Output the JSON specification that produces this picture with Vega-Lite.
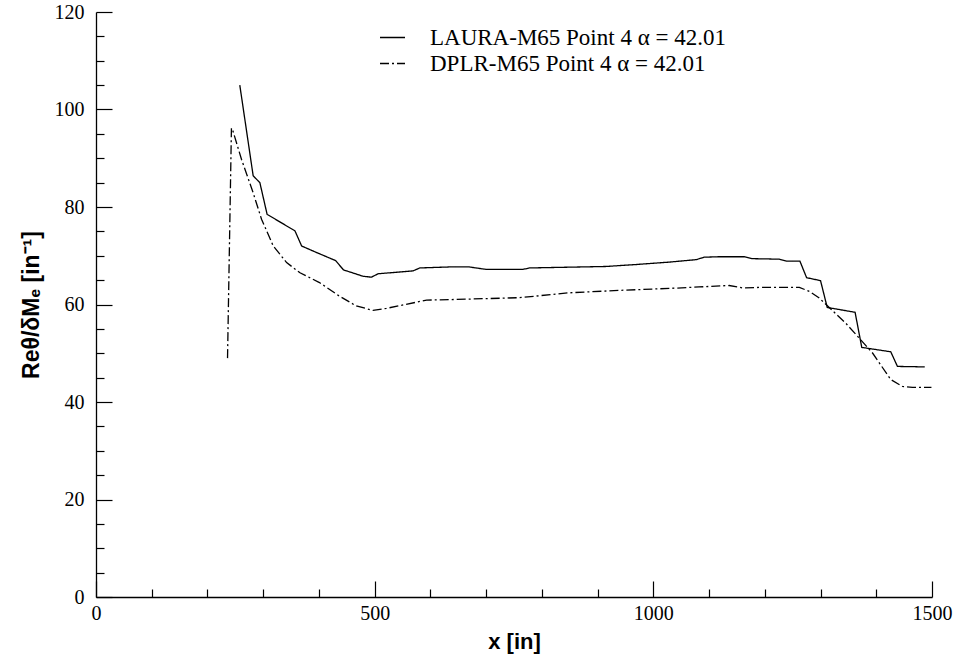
{
  "$schema": "https://vega.github.io/schema/vega-lite/v6.json",
  "autosize": "none",
  "width": 836,
  "height": 585,
  "padding": {"left": 96, "top": 12, "right": 28, "bottom": 58},
  "background": "white",
  "config": {"view": {"stroke": null}},
  "data": {"values": [
    {"series": "LAURA-M65 Point 4 α = 42.01", "x": 258, "y": 105.0},
    {"series": "LAURA-M65 Point 4 α = 42.01", "x": 282, "y": 86.4},
    {"series": "LAURA-M65 Point 4 α = 42.01", "x": 294, "y": 85.0},
    {"series": "LAURA-M65 Point 4 α = 42.01", "x": 307, "y": 78.5},
    {"series": "LAURA-M65 Point 4 α = 42.01", "x": 357, "y": 75.1},
    {"series": "LAURA-M65 Point 4 α = 42.01", "x": 369, "y": 72.0},
    {"series": "LAURA-M65 Point 4 α = 42.01", "x": 395, "y": 70.7},
    {"series": "LAURA-M65 Point 4 α = 42.01", "x": 430, "y": 69.0},
    {"series": "LAURA-M65 Point 4 α = 42.01", "x": 444, "y": 67.1},
    {"series": "LAURA-M65 Point 4 α = 42.01", "x": 479, "y": 65.8},
    {"series": "LAURA-M65 Point 4 α = 42.01", "x": 494, "y": 65.6},
    {"series": "LAURA-M65 Point 4 α = 42.01", "x": 506, "y": 66.3},
    {"series": "LAURA-M65 Point 4 α = 42.01", "x": 569, "y": 66.9},
    {"series": "LAURA-M65 Point 4 α = 42.01", "x": 581, "y": 67.5},
    {"series": "LAURA-M65 Point 4 α = 42.01", "x": 634, "y": 67.7},
    {"series": "LAURA-M65 Point 4 α = 42.01", "x": 670, "y": 67.7},
    {"series": "LAURA-M65 Point 4 α = 42.01", "x": 700, "y": 67.2},
    {"series": "LAURA-M65 Point 4 α = 42.01", "x": 766, "y": 67.2},
    {"series": "LAURA-M65 Point 4 α = 42.01", "x": 778, "y": 67.5},
    {"series": "LAURA-M65 Point 4 α = 42.01", "x": 915, "y": 67.8},
    {"series": "LAURA-M65 Point 4 α = 42.01", "x": 969, "y": 68.2},
    {"series": "LAURA-M65 Point 4 α = 42.01", "x": 1029, "y": 68.7},
    {"series": "LAURA-M65 Point 4 α = 42.01", "x": 1077, "y": 69.2},
    {"series": "LAURA-M65 Point 4 α = 42.01", "x": 1091, "y": 69.7},
    {"series": "LAURA-M65 Point 4 α = 42.01", "x": 1118, "y": 69.8},
    {"series": "LAURA-M65 Point 4 α = 42.01", "x": 1163, "y": 69.8},
    {"series": "LAURA-M65 Point 4 α = 42.01", "x": 1178, "y": 69.4},
    {"series": "LAURA-M65 Point 4 α = 42.01", "x": 1226, "y": 69.3},
    {"series": "LAURA-M65 Point 4 α = 42.01", "x": 1239, "y": 68.9},
    {"series": "LAURA-M65 Point 4 α = 42.01", "x": 1263, "y": 68.9},
    {"series": "LAURA-M65 Point 4 α = 42.01", "x": 1275, "y": 65.5},
    {"series": "LAURA-M65 Point 4 α = 42.01", "x": 1300, "y": 64.9},
    {"series": "LAURA-M65 Point 4 α = 42.01", "x": 1312, "y": 59.4},
    {"series": "LAURA-M65 Point 4 α = 42.01", "x": 1362, "y": 58.4},
    {"series": "LAURA-M65 Point 4 α = 42.01", "x": 1374, "y": 51.2},
    {"series": "LAURA-M65 Point 4 α = 42.01", "x": 1426, "y": 50.3},
    {"series": "LAURA-M65 Point 4 α = 42.01", "x": 1438, "y": 47.3},
    {"series": "LAURA-M65 Point 4 α = 42.01", "x": 1487, "y": 47.2},
    {"series": "DPLR-M65 Point 4 α = 42.01", "x": 236, "y": 49.0},
    {"series": "DPLR-M65 Point 4 α = 42.01", "x": 243, "y": 96.2},
    {"series": "DPLR-M65 Point 4 α = 42.01", "x": 246, "y": 95.5},
    {"series": "DPLR-M65 Point 4 α = 42.01", "x": 261, "y": 89.8},
    {"series": "DPLR-M65 Point 4 α = 42.01", "x": 282, "y": 82.9},
    {"series": "DPLR-M65 Point 4 α = 42.01", "x": 297, "y": 77.5},
    {"series": "DPLR-M65 Point 4 α = 42.01", "x": 318, "y": 72.0},
    {"series": "DPLR-M65 Point 4 α = 42.01", "x": 342, "y": 68.6},
    {"series": "DPLR-M65 Point 4 α = 42.01", "x": 366, "y": 66.5},
    {"series": "DPLR-M65 Point 4 α = 42.01", "x": 401, "y": 64.5},
    {"series": "DPLR-M65 Point 4 α = 42.01", "x": 437, "y": 61.7},
    {"series": "DPLR-M65 Point 4 α = 42.01", "x": 467, "y": 59.7},
    {"series": "DPLR-M65 Point 4 α = 42.01", "x": 497, "y": 58.8},
    {"series": "DPLR-M65 Point 4 α = 42.01", "x": 521, "y": 59.2},
    {"series": "DPLR-M65 Point 4 α = 42.01", "x": 593, "y": 60.9},
    {"series": "DPLR-M65 Point 4 α = 42.01", "x": 634, "y": 61.0},
    {"series": "DPLR-M65 Point 4 α = 42.01", "x": 760, "y": 61.4},
    {"series": "DPLR-M65 Point 4 α = 42.01", "x": 849, "y": 62.4},
    {"series": "DPLR-M65 Point 4 α = 42.01", "x": 939, "y": 62.9},
    {"series": "DPLR-M65 Point 4 α = 42.01", "x": 1029, "y": 63.3},
    {"series": "DPLR-M65 Point 4 α = 42.01", "x": 1082, "y": 63.6},
    {"series": "DPLR-M65 Point 4 α = 42.01", "x": 1136, "y": 63.9},
    {"series": "DPLR-M65 Point 4 α = 42.01", "x": 1160, "y": 63.4},
    {"series": "DPLR-M65 Point 4 α = 42.01", "x": 1190, "y": 63.5},
    {"series": "DPLR-M65 Point 4 α = 42.01", "x": 1262, "y": 63.5},
    {"series": "DPLR-M65 Point 4 α = 42.01", "x": 1280, "y": 62.7},
    {"series": "DPLR-M65 Point 4 α = 42.01", "x": 1297, "y": 61.4},
    {"series": "DPLR-M65 Point 4 α = 42.01", "x": 1345, "y": 56.2},
    {"series": "DPLR-M65 Point 4 α = 42.01", "x": 1393, "y": 50.1},
    {"series": "DPLR-M65 Point 4 α = 42.01", "x": 1426, "y": 44.6},
    {"series": "DPLR-M65 Point 4 α = 42.01", "x": 1447, "y": 43.2},
    {"series": "DPLR-M65 Point 4 α = 42.01", "x": 1465, "y": 43.0},
    {"series": "DPLR-M65 Point 4 α = 42.01", "x": 1499, "y": 43.0}
  ]},
  "mark": {"type": "line", "color": "black", "strokeWidth": 1.3, "interpolate": "linear"},
  "encoding": {
    "x": {
      "field": "x", "type": "quantitative",
      "scale": {"domain": [0, 1500], "nice": false, "zero": false},
      "axis": {
        "title": "x [in]",
        "values": [0, 100, 200, 300, 400, 500, 600, 700, 800, 900, 1000, 1100, 1200, 1300, 1400, 1500],
        "labelExpr": "datum.value % 500 === 0 ? datum.label : ''",
        "format": "d",
        "grid": false,
        "domainColor": "black", "domainWidth": 1.3,
        "tickColor": "black", "tickWidth": 1.2,
        "tickSize": {"condition": {"test": "datum.value % 500 === 0", "value": -16}, "value": -8},
        "labelFont": "Liberation Serif, Times New Roman, DejaVu Serif, serif", "labelFontSize": 20, "labelColor": "black",
        "labelPadding": 22, "labelFlush": false, "labelOverlap": false,
        "titleFont": "Liberation Sans, Arial, sans-serif", "titleFontSize": 22, "titleFontWeight": "bold", "titleColor": "black",
        "titleY": 51, "titleBaseline": "alphabetic"
      }
    },
    "y": {
      "field": "y", "type": "quantitative",
      "scale": {"domain": [0, 120], "nice": false, "zero": false},
      "axis": {
        "title": "Reθ/δMₑ [in⁻¹]",
        "values": [0, 5, 10, 15, 20, 25, 30, 35, 40, 45, 50, 55, 60, 65, 70, 75, 80, 85, 90, 95, 100, 105, 110, 115, 120],
        "labelExpr": "datum.value % 20 === 0 ? datum.label : ''",
        "grid": false,
        "domainColor": "black", "domainWidth": 1.3,
        "tickColor": "black", "tickWidth": 1.2,
        "tickSize": {"condition": {"test": "datum.value % 20 === 0", "value": -16}, "value": -8},
        "labelFont": "Liberation Serif, Times New Roman, DejaVu Serif, serif", "labelFontSize": 20, "labelColor": "black",
        "labelPadding": 28, "labelFlush": false, "labelOverlap": false,
        "titleFont": "Liberation Sans, Arial, sans-serif", "titleFontSize": 23, "titleFontWeight": "bold", "titleColor": "black",
        "titleX": -65, "titleBaseline": "middle"
      }
    },
    "strokeDash": {
      "field": "series", "type": "nominal",
      "scale": {"domain": ["LAURA-M65 Point 4 α = 42.01", "DPLR-M65 Point 4 α = 42.01"], "range": [[1, 0], [9, 3, 2, 3]]},
      "legend": {
        "title": null,
        "orient": "none", "legendX": 283, "legendY": 12,
        "symbolType": "stroke", "symbolSize": 625, "symbolStrokeWidth": 1.3, "symbolStrokeColor": "black",
        "labelFont": "Liberation Serif, Times New Roman, DejaVu Serif, serif", "labelFontSize": 23, "labelColor": "black",
        "labelOffset": 24, "rowPadding": 0, "padding": 0, "labelLimit": 500
      }
    }
  }
}
